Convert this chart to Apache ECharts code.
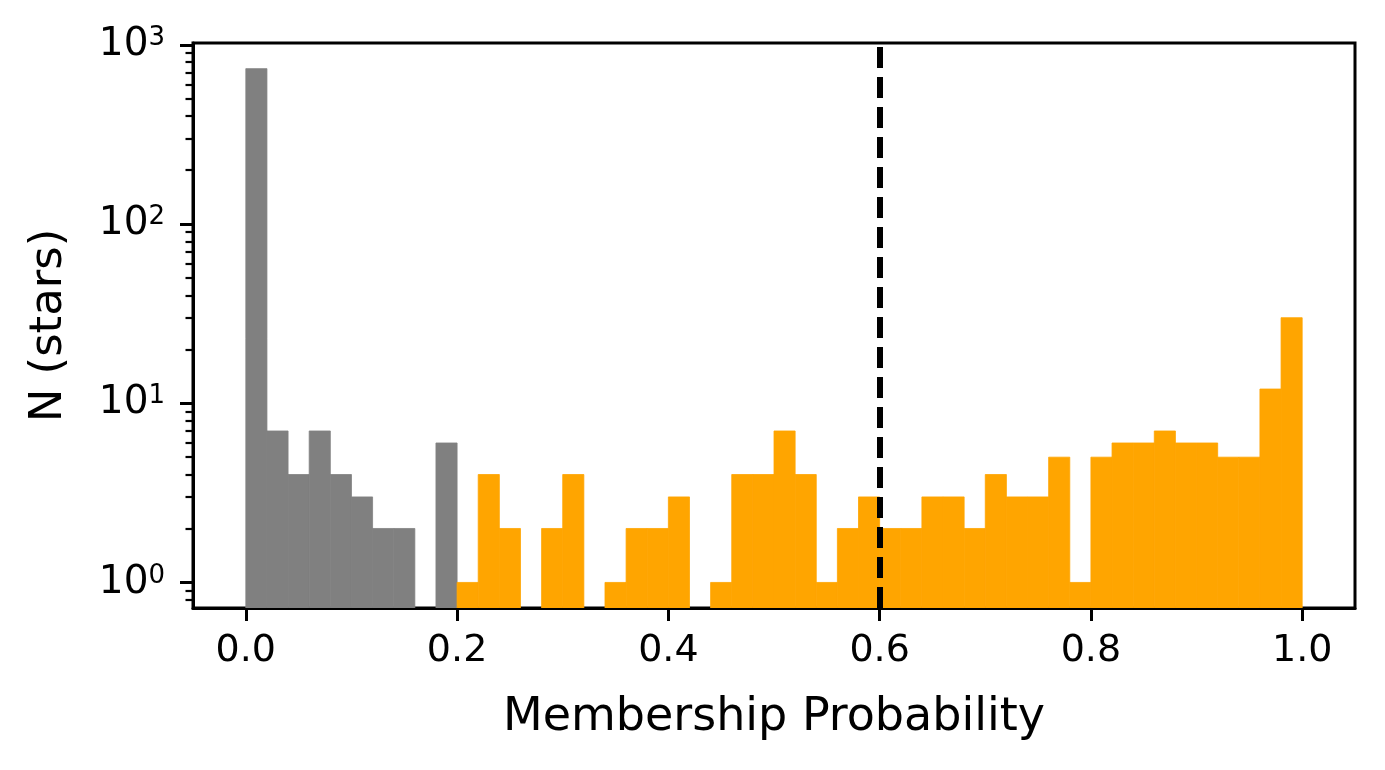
<!DOCTYPE html>
<html style="height:100%">
<head>
<meta charset="utf-8" />
<title>Membership Probability</title>
<script src="https://cdn.jsdelivr.net/npm/echarts@6/dist/echarts.min.js"></script>
<style>
    html, body { margin:0; padding:0; background:#fff; }
    #chartmain { width:1385px; height:770px; }
</style>
</head>
<body>
<div id="chartmain"></div>
<script type="text/javascript">

    // histogram bins, left edges (width 0.02)
    var binLeft = [0.00,0.02,0.04,0.06,0.08,0.10,0.12,0.14,0.16,0.18,
                   0.20,0.22,0.24,0.26,0.28,0.30,0.32,0.34,0.36,0.38,
                   0.40,0.42,0.44,0.46,0.48,0.50,0.52,0.54,0.56,0.58,
                   0.60,0.62,0.64,0.66,0.68,0.70,0.72,0.74,0.76,0.78,
                   0.80,0.82,0.84,0.86,0.88,0.90,0.92,0.94,0.96,0.98];
    var binWidth = 0.02;
    // N stars per bin
    var counts = [736,7,4,7,4,3,2,2,0,6,
                  1,4,2,0,2,4,0,1,2,2,
                  3,0,1,4,4,7,4,1,2,3,
                  2,2,3,3,2,4,3,3,5,1,
                  5,6,6,7,6,6,5,5,12,30];

    var colorSplit = 0.2;     // bins below this are grey
    var cutoff = 0.6;         // dashed line

    var xTicks = [0, 0.2, 0.4, 0.6, 0.8, 1.0];
    var yTicks = [1, 10, 100, 1000];
    var yMinorTicks = [0.8, 0.9, 2, 3, 4, 5, 6, 7, 8, 9,
                       20, 30, 40, 50, 60, 70, 80, 90,
                       200, 300, 400, 500, 600, 700, 800, 900];
    var xMin = -0.05, xMax = 1.05;
    var yMin = 0.72, yMax = 1023;

    var FONT = 'DejaVu Sans';

    var barData = [];
    for (var i = 0; i < counts.length; i++) {
        if (counts[i] > 0) {
            barData.push([binLeft[i], binLeft[i] + binWidth, counts[i]]);
        }
    }

    var myChart = echarts.init(document.getElementById('chartmain'), null, {renderer:'canvas'});

    function yLabel(v) {
        var p = Math.round(Math.log(v) / Math.LN10);
        return '{b|10}{s|' + p + '}';
    }

    var option = {
        backgroundColor: '#fff',
        animation: false,
        grid: {
            left: 193, right: 30, top: 43, bottom: 162,
            containLabel: false,
            outerBoundsMode: 'none',
            show: true,
            borderColor: '#000',
            borderWidth: 3,
            backgroundColor: 'transparent'
        },
        xAxis: [{
            type: 'value',
            min: xMin, max: xMax,
            name: 'Membership Probability',
            nameLocation: 'middle',
            nameGap: 87,
            nameTextStyle: { fontFamily: FONT, fontSize: 46, color: '#000' },
            axisLine: { show: true, onZero: false, lineStyle: { color: '#000', width: 3 } },
            axisTick: { show: true, length: 13, lineStyle: { color: '#000', width: 3 }, customValues: xTicks },
            axisLabel: {
                customValues: xTicks,
                margin: 24,
                fontFamily: FONT, fontSize: 38, color: '#000',
                formatter: function (v) { return v.toFixed(1); }
            },
            splitLine: { show: false }
        }],
        yAxis: [{
            type: 'log',
            logBase: 10,
            min: yMin, max: yMax,
            name: 'N (stars)',
            nameLocation: 'middle',
            nameGap: 121,
            nameTextStyle: { fontFamily: FONT, fontSize: 45, color: '#000' },
            axisLine: { show: true, onZero: false, lineStyle: { color: '#000', width: 3 } },
            axisTick: { show: true, length: 13, lineStyle: { color: '#000', width: 3 }, customValues: yTicks },
            axisLabel: {
                customValues: yTicks,
                margin: 28,
                color: '#000',
                formatter: yLabel,
                rich: {
                    b: { fontFamily: FONT, fontSize: 39, color: '#000' },
                    s: { fontFamily: FONT, fontSize: 26, color: '#000', verticalAlign: 'top' }
                }
            },
            splitLine: { show: false },
            minorTick: { show: false }
        }, {
            // minor ticks only
            type: 'log',
            logBase: 10,
            min: yMin, max: yMax,
            position: 'left',
            axisLine: { show: false, onZero: false },
            axisTick: { show: true, length: 7.5, lineStyle: { color: '#000', width: 2.2 }, customValues: yMinorTicks },
            axisLabel: { show: false },
            splitLine: { show: false }
        }],
        series: [{
            type: 'custom',
            xAxisIndex: 0,
            yAxisIndex: 0,
            data: barData,
            encode: { x: [0, 1], y: 2 },
            clip: true,
            silent: true,
            renderItem: function (params, api) {
                var x0 = api.value(0), x1 = api.value(1), n = api.value(2);
                var top = api.coord([x0, n]);
                var bot = api.coord([x1, yMin]);
                var c = x0 < colorSplit - 1e-9 ? '#808080' : '#FFA500';
                return {
                    type: 'rect',
                    shape: { x: top[0], y: top[1], width: bot[0] - top[0], height: bot[1] - top[1] },
                    style: { fill: c, stroke: c, lineWidth: 0.8 }
                };
            },
            z: 2
        }, {
            type: 'line',
            data: [],
            silent: true,
            symbol: 'none',
            z: 5,
            markLine: {
                silent: true,
                symbol: ['none', 'none'],
                label: { show: false },
                lineStyle: { color: '#000', width: 6, type: [21, 9], cap: 'butt' },
                data: [{ xAxis: cutoff }],
                animation: false
            }
        }]
    };

    myChart.setOption(option);
</script>
</body>
</html>
